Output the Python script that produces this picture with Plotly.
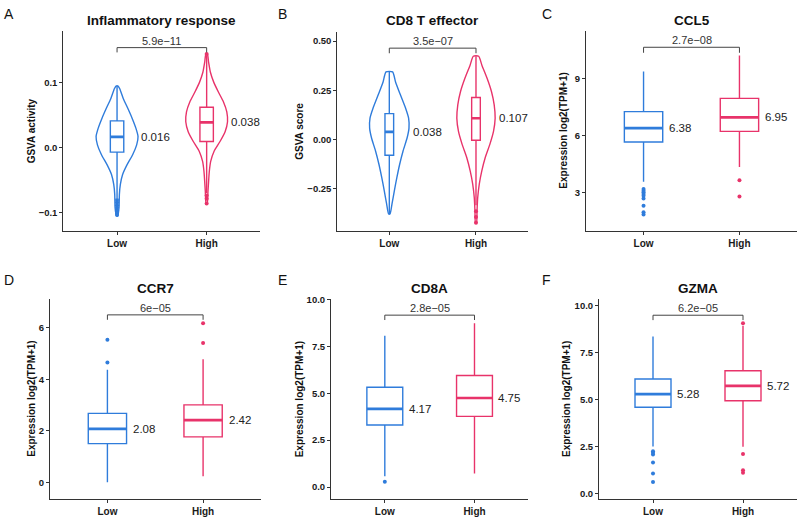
import plotly.graph_objects as go

W, H = 799, 519
BLUE = "#2F7CDB"
RED = "#E8336A"
FONT = "Liberation Sans"

groups = ["Low", "High"]
panel_titles = ["Inflammatory response", "CD8 T effector", "CCL5", "CCR7", "CD8A", "GZMA"]
panel_letters = ["A", "B", "C", "D", "E", "F"]
y_titles = ["GSVA activity", "GSVA score", "Expression log2(TPM+1)",
            "Expression log2(TPM+1)", "Expression log2(TPM+1)", "Expression log2(TPM+1)"]
p_values = ["5.9e\u221211", "3.5e\u221207", "2.7e\u221208", "6e\u221205", "2.8e\u221205", "6.2e\u221205"]
median_labels = [["0.016", "0.038"], ["0.038", "0.107"], ["6.38", "6.95"],
                 ["2.08", "2.42"], ["4.17", "4.75"], ["5.28", "5.72"]]

# box statistics per panel: [Low, High]
q1 = [[-0.0071, 0.0092], [-0.081, -0.005], [5.65, 6.21], [1.51, 1.77], [3.31, 3.77], [4.58, 4.93]]
median = [[0.0163, 0.0387], [0.038, 0.107], [6.38, 6.95], [2.08, 2.42], [4.17, 4.75], [5.28, 5.72]]
q3 = [[0.041, 0.0621], [0.131, 0.213], [7.25, 7.95], [2.68, 3.01], [5.32, 5.95], [6.08, 6.52]]
lower_whisker = [[-0.078, -0.070], [-0.380, -0.335], [3.56, 4.33], [0.02, 0.25], [0.58, 0.72], [2.50, 2.49]]
upper_whisker = [[0.0947, 0.141], [0.343, 0.423], [9.37, 10.21], [4.37, 4.77], [8.07, 8.74], [8.34, 8.91]]
outliers = [
    [[-0.081, -0.085, -0.089, -0.093, -0.097, -0.101, -0.104],
     [-0.074, -0.079, -0.0865, 0.144]],
    [[], [-0.366, -0.395, -0.425]],
    [[3.17, 3.08, 3.0, 2.91, 2.82, 2.68, 2.30, 1.95, 1.83], [3.64, 2.78]],
    [[4.65, 5.53], [5.40, 6.17]],
    [[0.28], []],
    [[2.24, 2.16, 2.07, 1.65, 1.07, 0.61], [9.05, 2.10, 1.24, 1.10]],
]

# violin outlines (panels A and B): y positions and half widths (category units)
violin_y = [
    [[0.0947, 0.0906, 0.0753, 0.060, 0.0448, 0.0295, 0.0168, 0.0041, -0.0112, -0.0265, -0.0417, -0.057, -0.0723, -0.0926, -0.105],
     [0.144, 0.1313, 0.116, 0.1008, 0.0855, 0.0702, 0.055, 0.0397, 0.0244, 0.0092, -0.0061, -0.0214, -0.0366, -0.0519, -0.0672, -0.0865]],
    [[0.343, 0.292, 0.225, 0.158, 0.107, 0.057, 0.0067, -0.0605, -0.128, -0.195, -0.262, -0.329, -0.380],
     [0.423, 0.376, 0.309, 0.242, 0.175, 0.107, 0.040, -0.027, -0.094, -0.161, -0.228, -0.296, -0.363, -0.425]],
]
violin_w = [
    [[0.012, 0.030, 0.070, 0.121, 0.169, 0.211, 0.234, 0.219, 0.174, 0.112, 0.062, 0.037, 0.026, 0.022, 0.008],
     [0.008, 0.022, 0.042, 0.079, 0.131, 0.188, 0.225, 0.233, 0.206, 0.149, 0.082, 0.045, 0.030, 0.022, 0.015, 0.006]],
    [[0.038, 0.072, 0.129, 0.188, 0.223, 0.227, 0.205, 0.158, 0.119, 0.087, 0.058, 0.031, 0.008],
     [0.031, 0.069, 0.129, 0.179, 0.210, 0.221, 0.202, 0.159, 0.106, 0.067, 0.038, 0.020, 0.012, 0.006]],
]

box_width = [0.15, 0.10, 0.40, 0.40, 0.40, 0.40]
bracket_y = [0.154, 0.464, 10.64, 6.49, 9.17, 9.47]
bracket_drop = [0.1466, 0.438, 10.35, 6.30, 8.91, 9.21]

y_ranges = [[-0.128, 0.180], [-0.464, 0.544], [0.99, 11.51], [-0.64, 7.11], [-0.65, 10.04], [-0.30, 10.34]]
y_tickvals = [[-0.1, 0, 0.1], [-0.25, 0, 0.25, 0.5], [3, 6, 9], [0, 2, 4, 6],
              [0, 2.5, 5, 7.5, 10], [0, 2.5, 5, 7.5, 10]]
y_ticktext = [["\u22120.1", "0.0", "0.1"], ["\u22120.25", "0.00", "0.25", "0.50"], ["3", "6", "9"],
              ["0", "2", "4", "6"], ["0.0", "2.5", "5.0", "7.5", "10.0"], ["0.0", "2.5", "5.0", "7.5", "10.0"]]

# layout (pixels)
x_dom_px = [[63.3, 260.4], [337.3, 528.0], [586.0, 797.0], [50.0, 260.5], [331.0, 528.3], [599.0, 797.0]]
y_dom_px = [[26.0, 227.7], [27.7, 227.7], [26.0, 227.7], [296.7, 499], [296.7, 499], [296.7, 499]]
ytitle_x_px = [31.7, 299.3, 564, 30.7, 299.3, 566]
title_y_px = [15.5, 15.5, 15.5, 286, 286, 286]
letter_x_px = [2, 276, 540, 2, 276, 540]
letter_y_px = [9, 9, 9, 277.5, 277.5, 277.5]

colors = [BLUE, RED]
fig = go.Figure()
annotations = []
layout_axes = {}

for p in range(6):
    sfx = "" if p == 0 else str(p + 1)
    xref, yref = "x" + sfx, "y" + sfx
    for g in range(2):
        c = g + 1
        col = colors[g]
        if p < 2:
            ys = violin_y[p][g]
            ws = violin_w[p][g]
            vx = [c + w for w in ws] + [c - w for w in reversed(ws)] + [c + ws[0]]
            vy = list(ys) + list(reversed(ys)) + [ys[0]]
            fig.add_trace(go.Scatter(x=vx, y=vy, mode="lines",
                                     line=dict(color=col, width=1.4, shape="spline", smoothing=0.6),
                                     xaxis=xref, yaxis=yref, hoverinfo="skip", showlegend=False))
        fig.add_trace(go.Box(x=[c], q1=[q1[p][g]], median=[median[p][g]], q3=[q3[p][g]],
                             lowerfence=[lower_whisker[p][g]], upperfence=[upper_whisker[p][g]],
                             width=box_width[p], whiskerwidth=0, boxpoints=False,
                             fillcolor="white", line=dict(color=col, width=1.4),
                             xaxis=xref, yaxis=yref, hoverinfo="skip", showlegend=False))
        bw = box_width[p]
        fig.add_trace(go.Scatter(x=[c - bw / 2, c + bw / 2], y=[median[p][g], median[p][g]],
                                 mode="lines", line=dict(color=col, width=2.6),
                                 xaxis=xref, yaxis=yref, hoverinfo="skip", showlegend=False))
        if outliers[p][g]:
            fig.add_trace(go.Scatter(x=[c] * len(outliers[p][g]), y=outliers[p][g], mode="markers",
                                     marker=dict(color=col, size=4.0),
                                     xaxis=xref, yaxis=yref, hoverinfo="skip", showlegend=False))
        annotations.append(dict(x=c + 0.245, y=median[p][g], xref=xref, yref=yref,
                                text=median_labels[p][g], showarrow=False, xanchor="left",
                                yanchor="middle", font=dict(family=FONT, size=11.5, color="#222")))
    # bracket
    fig.add_trace(go.Scatter(x=[1, 1, 2, 2],
                             y=[bracket_drop[p], bracket_y[p], bracket_y[p], bracket_drop[p]],
                             mode="lines", line=dict(color="#444", width=1),
                             xaxis=xref, yaxis=yref, hoverinfo="skip", showlegend=False))
    annotations.append(dict(x=1.5, y=bracket_y[p], xref=xref, yref=yref, text=p_values[p],
                            showarrow=False, xanchor="center", yanchor="bottom", yshift=-1,
                            font=dict(family=FONT, size=11, color="#333")))
    xd = [x_dom_px[p][0] / W, x_dom_px[p][1] / W]
    yd = [1 - y_dom_px[p][1] / H, 1 - y_dom_px[p][0] / H]
    common = dict(showline=True, linecolor="#333", linewidth=1, ticks="outside", ticklen=3,
                  tickcolor="#333", showgrid=False, zeroline=False,
                  tickfont=dict(family=FONT, size=10, color="#1a1a1a", weight="bold"))
    layout_axes["xaxis" + sfx] = dict(domain=xd, range=[0.4, 2.6], tickvals=[1, 2], ticktext=groups,
                                      anchor=yref, **common)
    common_y = dict(common)
    common_y["tickfont"] = dict(family=FONT, size=9.5, color="#1a1a1a", weight="bold")
    layout_axes["yaxis" + sfx] = dict(domain=yd, range=y_ranges[p], tickvals=y_tickvals[p],
                                      ticktext=y_ticktext[p], anchor=xref, **common_y)
    # titles
    annotations.append(dict(x=(x_dom_px[p][0] + x_dom_px[p][1]) / 2 / W, y=1 - title_y_px[p] / H,
                            xref="paper", yref="paper", text=panel_titles[p], showarrow=False,
                            xanchor="center", yanchor="middle",
                            font=dict(family=FONT, size=13.5, color="#111", weight="bold")))
    annotations.append(dict(x=letter_x_px[p] / W, y=1 - letter_y_px[p] / H, xref="paper", yref="paper",
                            text=panel_letters[p], showarrow=False, xanchor="left", yanchor="middle",
                            font=dict(family=FONT, size=14, color="#111")))
    annotations.append(dict(x=ytitle_x_px[p] / W, y=1 - (y_dom_px[p][0] + y_dom_px[p][1]) / 2 / H,
                            xref="paper", yref="paper", text=y_titles[p], showarrow=False,
                            textangle=-90, xanchor="center", yanchor="middle",
                            font=dict(family=FONT, size=10, color="#111", weight="bold")))

fig.update_layout(width=W, height=H, autosize=False, margin=dict(l=0, r=0, t=0, b=0),
                  paper_bgcolor="white", plot_bgcolor="white", showlegend=False,
                  annotations=annotations, **layout_axes)
fig.write_html("out.html", config={"displayModeBar": False},
               post_script="document.body.style.margin='0';document.body.style.overflow='hidden';")
